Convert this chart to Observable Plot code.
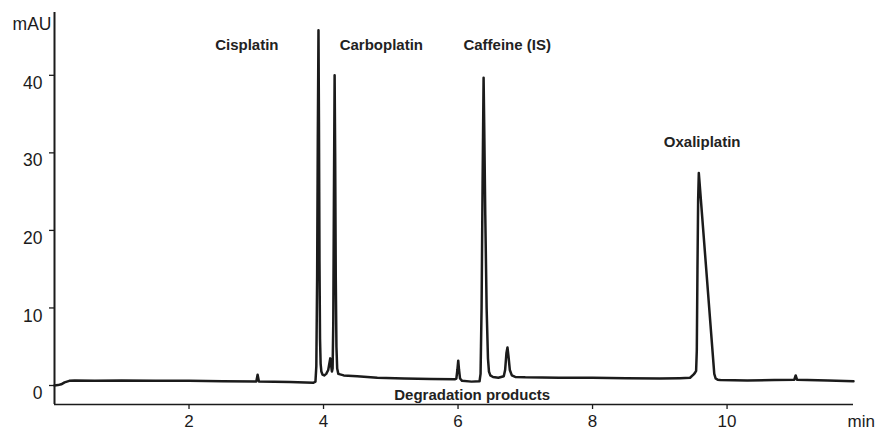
<!DOCTYPE html>
<html>
<head>
<meta charset="utf-8">
<script src="https://cdn.jsdelivr.net/npm/d3@7"></script>
<script src="https://cdn.jsdelivr.net/npm/@observablehq/plot@0.6"></script>
<style>
  body { margin: 0; background: #fff; }
  #chart svg { display: block; }
</style>
</head>
<body>
<div id="chart"></div>
<script>
// Chromatogram trace: retention time (min) and detector response (mAU)
const time = [
  0.00, 0.05, 0.10, 0.15, 0.22, 0.30, 0.60, 1.00, 1.50, 2.00, 2.50, 3.00, 3.02, 3.04, 3.50, 3.85, 3.88,
  3.893, 3.905, 3.915, 3.925, 3.932, 3.940, 3.948, 3.957, 3.968, 3.985, 4.01, 4.04, 4.07, 4.09, 4.10, 4.11, 4.125,
  4.135, 4.145, 4.155, 4.165, 4.173, 4.182, 4.192, 4.203, 4.22, 4.30, 4.50, 4.80, 5.20, 5.60, 5.95,
  5.975, 5.99, 6.003, 6.015, 6.03, 6.06, 6.20, 6.32,
  6.335, 6.35, 6.365, 6.38, 6.39, 6.405, 6.425, 6.445, 6.46, 6.48, 6.52, 6.60,
  6.68, 6.70, 6.72, 6.735, 6.75, 6.77, 6.80, 6.85, 7.00, 7.50, 8.00, 8.50, 9.00, 9.30, 9.45, 9.50,
  9.52, 9.54, 9.55, 9.56, 9.57, 9.58, 9.59, 9.81, 9.83, 9.86, 9.90,
  10.30, 10.70, 11.00, 11.02, 11.04, 11.50, 11.88
];
const absorbance = [
  0.0, 0.05, 0.15, 0.40, 0.60, 0.65, 0.60, 0.65, 0.60, 0.60, 0.55, 0.50, 1.40, 0.50, 0.45, 0.35, 0.50,
  2.5, 14.0, 32.0, 45.8, 34.0, 16.0, 6.0, 2.8, 1.8, 1.4, 1.3, 1.5, 2.0, 3.0, 3.5, 2.8, 1.8,
  2.2, 8.0, 25.0, 40.0, 30.0, 14.0, 5.0, 2.2, 1.5, 1.3, 1.2, 1.0, 0.90, 0.85, 0.80,
  0.90, 2.0, 3.2, 2.0, 0.9, 0.6, 0.5, 0.55,
  1.5, 10.0, 26.0, 39.7, 33.0, 22.0, 10.0, 3.5, 1.8, 1.3, 1.1, 1.0,
  1.2, 2.0, 4.2, 4.9, 3.8, 2.0, 1.3, 1.1, 1.05, 1.0, 1.0, 0.95, 0.90, 0.95, 1.0, 1.4,
  1.6, 1.9, 4.5, 15.0, 24.0, 27.4, 26.3, 1.5, 0.9, 0.75, 0.70,
  0.65, 0.70, 0.75, 1.30, 0.75, 0.65, 0.55
];

// Axis extents and ticks
const xDomain = [0, 11.88];
const yDomain = [-2.45, 48.1];
const xTicks = [2, 4, 6, 8, 10];
const yTicks = [0, 10, 20, 30, 40];

// Peak annotations
const peakNames = ["Cisplatin", "Carboplatin", "Caffeine (IS)", "Oxaliplatin", "Degradation products"];
const peakLabelTime = [2.86, 4.86, 6.73, 9.63, 6.21];
const peakLabelMAU = [43.9, 43.9, 43.9, 31.4, -1.3];

const trace = time.map((t, i) => ({t, v: absorbance[i]}));
const labels = peakNames.map((name, i) => ({name, t: peakLabelTime[i], v: peakLabelMAU[i]}));

const ink = "#1b1b1b";

const chart = Plot.plot({
  width: 876,
  height: 433,
  marginLeft: 54,
  marginRight: 23,
  marginTop: 12,
  marginBottom: 29,
  style: {fontFamily: "'Liberation Sans', Arial, sans-serif", color: ink, background: "#fff"},
  x: {domain: xDomain, label: null},
  y: {domain: yDomain, label: null},
  marks: [
    // tick marks only; the numbers are placed as text below
    Plot.axisX({ticks: xTicks, tickSize: 5, tickFormat: () => "", label: null, stroke: ink, strokeWidth: 1.3}),
    Plot.axisY({ticks: yTicks, tickSize: 5, tickFormat: () => "", label: null, stroke: ink, strokeWidth: 1.3}),
    Plot.text(xTicks, {x: d => d, text: d => String(d), frameAnchor: "bottom", lineAnchor: "middle", dy: 17, fontSize: 17, fill: ink}),
    Plot.text(yTicks, {y: d => d, text: d => String(d), frameAnchor: "left", textAnchor: "end", lineAnchor: "middle", dx: -12, dy: 8, fontSize: 17.5, fill: ink}),
    Plot.ruleX([xDomain[0]], {stroke: ink, strokeWidth: 2}),
    Plot.ruleY([yDomain[0]], {stroke: ink, strokeWidth: 1.5}),
    Plot.line(trace, {x: "t", y: "v", curve: "linear", stroke: ink, strokeWidth: 2.5, strokeLinejoin: "round"}),
    Plot.text(labels, {x: "t", y: "v", text: "name", fontSize: 15, fontWeight: "bold", fill: "#222"}),
    Plot.text(["mAU"], {frameAnchor: "top-left", text: d => d, textAnchor: "end", lineAnchor: "middle", dx: -3, dy: 12, fontSize: 17.5, fill: ink}),
    Plot.text(["min"], {frameAnchor: "bottom-right", text: d => d, textAnchor: "start", dx: -6, dy: 17, lineAnchor: "middle", fontSize: 17, fill: ink})
  ]
});

document.getElementById("chart").append(chart);
</script>
</body>
</html>
